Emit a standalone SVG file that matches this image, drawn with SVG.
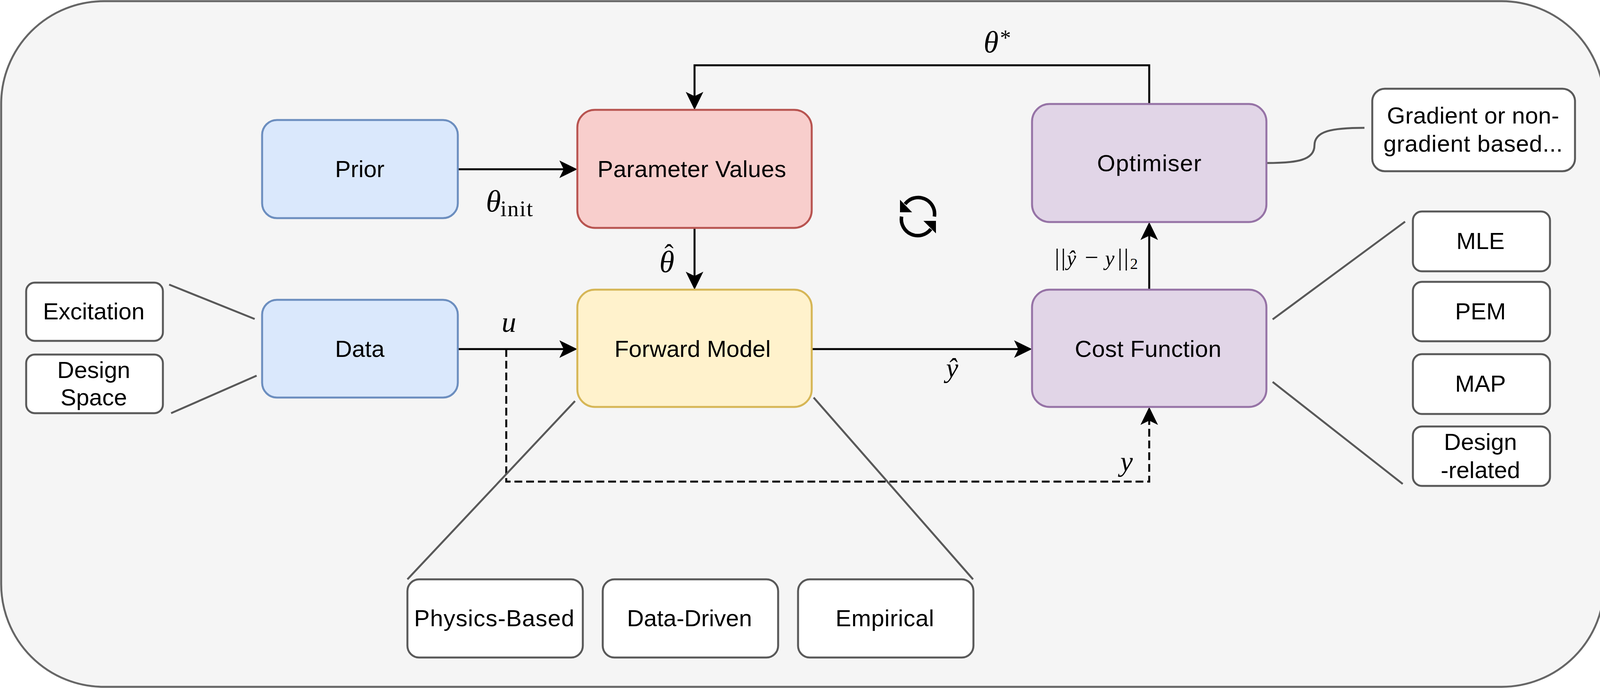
<svg xmlns="http://www.w3.org/2000/svg" width="4110" height="1760" viewBox="0 0 4110 1760">
<style>
.n{stroke-width:5}
.blue{fill:#dae8fc;stroke:#6c8ebf}
.red{fill:#f8cecc;stroke:#b85450}
.yellow{fill:#fff2cc;stroke:#d6b656}
.purple{fill:#e1d5e7;stroke:#9673a6}
.white{fill:#fff;stroke:#595959}
.t{font-family:"Liberation Sans",Arial,sans-serif;font-size:60px;fill:#000;text-anchor:middle}
.m{font-family:"Liberation Serif","Times New Roman",serif;font-style:italic;fill:#000}
.u{font-style:normal}
.c{fill:none;stroke:#000;stroke-width:5}
.g{fill:none;stroke:#595959;stroke-width:5}
</style>
<defs>
<marker id="arrow" markerUnits="userSpaceOnUse" markerWidth="46" markerHeight="46" viewBox="0 0 46 46" refX="20" refY="23" orient="auto">
<path d="M0 .5L46 23L0 45.5L11 23Z" fill="#000"/>
</marker>
</defs>
<rect id="background" x="3" y="3" width="4104" height="1754" rx="263" ry="263" fill="#f5f5f5" stroke="#666" stroke-width="5"/>
<g id="connectors">
<path class="c" marker-end="url(#arrow)" d="M1172 433H1452"/>
<path class="c" marker-end="url(#arrow)" d="M1172 893H1452"/>
<path class="c" marker-end="url(#arrow)" d="M2942 266V167H1778V255"/>
<path class="c" marker-end="url(#arrow)" d="M1778 583V715"/>
<path class="c" marker-end="url(#arrow)" d="M2078 893H2616"/>
<path class="c" marker-end="url(#arrow)" d="M2942 741V594"/>
<path class="c" marker-end="url(#arrow)" stroke-dasharray="20 10" d="M1296 893V1232H2942V1067"/>
<path class="g" d="M433 728L652 816"/>
<path class="g" d="M438 1057L657 961"/>
<path class="g" d="M1472 1026L1043 1482"/>
<path class="g" d="M2083 1017L2491 1482"/>
<path class="g" d="M3258 817L3597 567"/>
<path class="g" d="M3258 977L3591 1238"/>
<path class="g" d="M3242 417C3320 417 3365 410 3365 372C3365 335 3410 327 3493 327"/>
</g>
<g id="prior"><rect class="n blue" x="671" y="307" width="501" height="251" rx="38"/><text class="t" x="921" y="453">Prior</text></g>
<g id="data"><rect class="n blue" x="671" y="767" width="501" height="250" rx="38"/><text class="t" x="921" y="913">Data</text></g>
<g id="parameter-values"><rect class="n red" x="1478" y="281" width="600" height="302" rx="45"/><text class="t" x="1771" y="453" textLength="483">Parameter Values</text></g>
<g id="forward-model"><rect class="n yellow" x="1478" y="741" width="600" height="300" rx="45"/><text class="t" x="1773" y="913">Forward Model</text></g>
<g id="optimiser"><rect class="n purple" x="2642" y="266" width="600" height="302" rx="45"/><text class="t" x="2942" y="438" textLength="267">Optimiser</text></g>
<g id="cost-function"><rect class="n purple" x="2642" y="741" width="600" height="300" rx="45"/><text class="t" x="2939" y="913" textLength="375">Cost Function</text></g>
<g id="excitation"><rect class="n white" x="67" y="723" width="350" height="149" rx="22"/><text class="t" x="240" y="817">Excitation</text></g>
<g id="design-space"><rect class="n white" x="67" y="907" width="350" height="150" rx="22"/><text class="t" x="240" y="967">Design</text><text class="t" x="240" y="1037">Space</text></g>
<g id="physics-based"><rect class="n white" x="1043" y="1482" width="449" height="200" rx="30"/><text class="t" x="1265" y="1602" textLength="410">Physics-Based</text></g>
<g id="data-driven"><rect class="n white" x="1543" y="1482" width="449" height="200" rx="30"/><text class="t" x="1765" y="1602">Data-Driven</text></g>
<g id="empirical"><rect class="n white" x="2043" y="1482" width="449" height="200" rx="30"/><text class="t" x="2265" y="1602" textLength="252">Empirical</text></g>
<g id="gradient"><rect class="n white" x="3513" y="227" width="519" height="211" rx="32"/><text class="t" x="3771" y="316" textLength="441">Gradient or non-</text><text class="t" x="3771" y="388" textLength="459">gradient based...</text></g>
<g id="mle"><rect class="n white" x="3617" y="541" width="351" height="153" rx="23"/><text class="t" x="3790" y="637">MLE</text></g>
<g id="pem"><rect class="n white" x="3617" y="721" width="351" height="152" rx="23"/><text class="t" x="3790" y="817">PEM</text></g>
<g id="map"><rect class="n white" x="3617" y="906" width="351" height="153" rx="23"/><text class="t" x="3790" y="1002">MAP</text></g>
<g id="design-related"><rect class="n white" x="3617" y="1091" width="351" height="152" rx="23"/><text class="t" x="3790" y="1151">Design</text><text class="t" x="3790" y="1223">-related</text></g>
<g id="labels">
<text class="m" font-size="78" x="1244" y="541">θ<tspan class="u" font-size="58" x="1281 1299 1330 1348" y="553">init</tspan></text>
<text class="m" x="1284" y="849" font-size="75">u</text>
<text class="m" font-size="78" x="1688" y="696">θ<tspan class="u" font-size="70" x="1701" y="673">ˆ</tspan></text>
<text class="m" x="2422" y="965" font-size="70">ŷ</text>
<text class="m" font-size="78" x="2518" y="134">θ<tspan class="u" font-size="56" x="2560" y="116">*</tspan></text>
<text class="m" x="2868" y="1205" font-size="72">y</text>
<text class="m" font-size="62" y="679"><tspan class="u" x="2700 2716">||</tspan><tspan font-size="54" x="2731">ŷ</tspan><tspan class="u" x="2777">−</tspan><tspan font-size="54" x="2829">y</tspan><tspan class="u" x="2861 2877">||</tspan><tspan class="u" font-size="40" x="2893" y="688">2</tspan></text>
</g>
<g id="loop-icon">
<path d="M2392 554A42 42 0 0 0 2317 522" fill="none" stroke="#000" stroke-width="9"/>
<path d="M2308 554A42 42 0 0 0 2383 586" fill="none" stroke="#000" stroke-width="9"/>
<path d="M2304 511V543H2335Z"/>
<path d="M2396 597V565H2364Z"/>
</g>
</svg>
